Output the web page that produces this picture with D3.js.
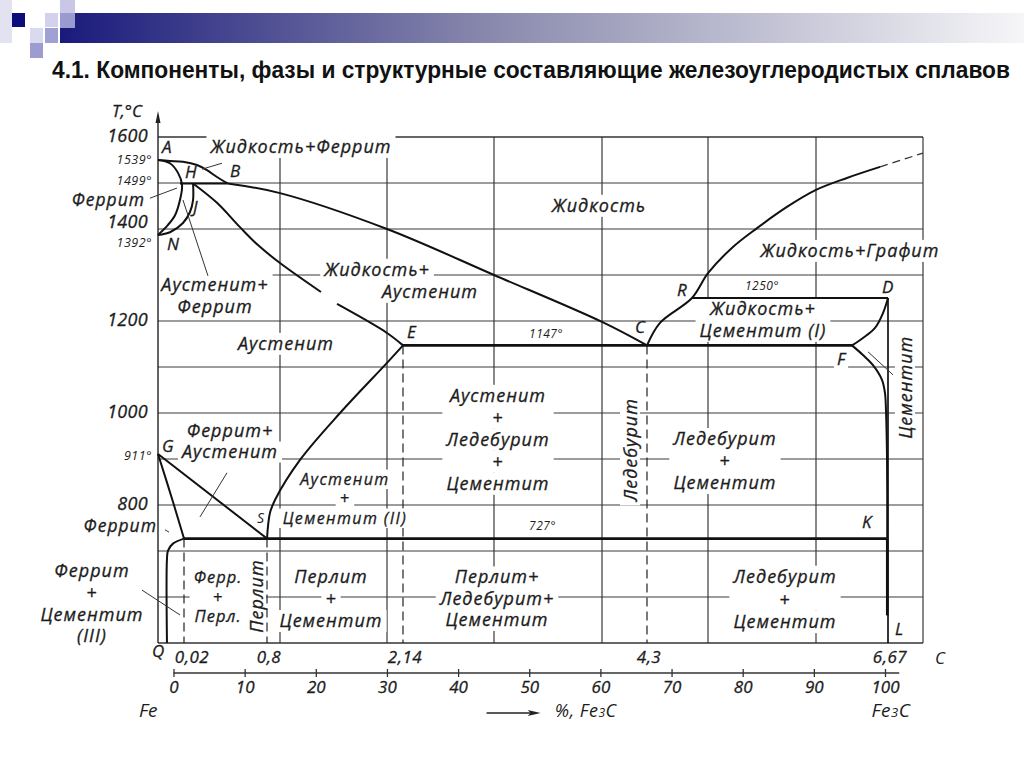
<!DOCTYPE html>
<html><head><meta charset="utf-8">
<script src="https://cdn.jsdelivr.net/npm/d3@7"></script>
<style>
body{margin:0;background:#fff;}
svg{display:block;}
.lbl{font-family:"Open Sans","Noto Sans",sans-serif;font-style:italic;fill:#1c1c1c;stroke:#1c1c1c;stroke-width:0.3px;}
</style></head><body>
<svg id="c" width="1024" height="767"></svg>
<script>
// ---------- DATA ----------
const title = "4.1. Компоненты, фазы и структурные составляющие железоуглеродистых сплавов";
const tempTicks = [800, 1000, 1200, 1400, 1600];
const gridTemps = [600, 700, 800, 900, 1000, 1100, 1200, 1300, 1400, 1500];
const gridCarbon = [1, 2, 3, 4, 5, 6, 7];
const fe3cTicks = [0, 10, 20, 30, 40, 50, 60, 70, 80, 90, 100];
const compValues = [0.02, 0.8, 2.14, 4.3, 6.67];
const compLabels = ["0,02", "0,8", "2,14", "4,3", "6,67"];
const dashedFrom = [[0.02, 727], [0.8, 727], [2.14, 1147], [4.3, 1147]];

// phase boundaries, [C %, T °C]
const liquidusAB = [[0,1550],[0.0092,1548],[0.0192,1546],[0.142,1539],[0.236,1528],[0.330,1513],[0.43,1499]];
const liquidusBC = [[0.43,1499],[1,1478],[2,1400],[3,1300],[4,1198],[4.3,1147]];
const deltaAN = [[0,1550],[0.0092,1543],[0.0154,1522],[0.0185,1496],[0.0169,1463],[0.0131,1430],[0.0077,1409],[0,1387]];
const peritecticHJB = [[0.0169,1499],[0.43,1499]];
const deltaJN = [[0.105,1499],[0.105,1463],[0.076,1437],[0.0192,1413],[0.0092,1393],[0,1387]];
const solidusJE1 = [[0.105,1499],[0.330,1457],[0.546,1404],[0.715,1365],[1,1326],[1.383,1263]];
const solidusJE2 = [[1.533,1237],[2,1174],[2.14,1147]];
const acmES = [[2.14,1147],[2,1109],[1.561,1000],[1.187,898],[0.923,811],[0.846,783],[0.8,727]];
const a3GS = [[0,911],[0.8,727]];
const lineGP = [[0,911],[0.0115,807],[0.02,727]];
const linePQ = [[0.02,727],[0.0115,716],[0.0077,701],[0.0069,683],[0.0069,500]];
const eutectoidPSK = [[0.02,727],[6.66,727]];
const eutecticECF = [[2.14,1147],[6.335,1147]];
const liquidusCD = [[4.3,1147],[4.449,1196],[4.816,1250],[5,1304],[5.231,1361],[5.454,1402],[5.731,1448],[6,1485],[6.288,1511],[6.596,1535]];
const liquidusDashed = [[6.596,1535],[7,1565]];
const lineRD = [[4.816,1250],[6.67,1250]];
const curveDF = [[6.67,1250],[6.623,1217],[6.549,1185],[6.437,1163],[6.335,1147]];
const curveFK = [[6.335,1147],[6.437,1126],[6.530,1104],[6.614,1072],[6.642,1043],[6.651,1007],[6.661,898],[6.663,727]];
const lineKL = [[6.663,727],[6.663,560]];
const lineDL = [[6.67,1250],[6.67,500]];
const leaders = [
  [[0.189,1530],[0.377,1543]],
  [[-0.0062,1467],[0.0146,1489]],
  [[0.0192,1463],[0.2455,1298]],
  [[0.424,870],[0.170,774]],
  [[0.0054,746],[0.0085,741]],
  [[-0.0123,615],[0.0169,561]],
  [[6.484,1133],[6.717,1083]]
];

// region names
const regionText = [
  ["Жидкость+Феррит"], ["Жидкость"], ["Жидкость+Графит"], ["Жидкость+"], ["Аустенит"],
  ["Аустенит+", "Феррит"], ["Аустенит"], ["Аустенит", "+", "Ледебурит", "+", "Цементит"],
  ["Ледебурит"], ["Ледебурит", "+", "Цементит"], ["Жидкость+", "Цементит (I)"], ["Цементит"],
  ["Феррит+", "Аустенит"], ["Аустенит", "+", "Цементит (II)"], ["Перлит", "+", "Цементит"],
  ["Ферр.", "+", "Перл."], ["Перлит"], ["Перлит+", "Ледебурит+", "Цементит"], ["Ледебурит", "+", "Цементит"],
  ["Феррит", "+", "Цементит", "(III)"], ["Феррит"], ["Феррит"]
];
const regionAt = [
  [1.196,1565],[3.972,1437],[6.316,1339],[1.907,1298],[2.395,1250],
  [0.311,1265],[1.056,1137],[3.037,1024],
  [4.187,920],[5.157,930],[5.509,1213],[6.83,1056],
  [0.452,948],[1.607,844],[1.477,630],
  [0.340,630],[0.697,602],[3.028,630],[5.713,630],
  [-0.0508,643],[-0.01,1449],[-0.0008,742]
];
const pointNames = ["A","H","B","J","N","E","C","R","D","F","G","S","K","L","Q"];
const pointAt = [[0.0031,1565],[0.0294,1511],[0.452,1513],[0.1046,1435],[0.0069,1354],[2.178,1163],[4.22,1174],
  [4.644,1254],[6.614,1261],[6.195,1104],[0.0031,915],[0.706,761],[6.428,750],[6.736,517],[-0.0046,470]];
const isoText = ["1147°", "727°", "1250°"];
const isoAt = [[3.482,1163],[3.45,746],[5.5,1267]];
const sideTemps = ["1539°", "1499°", "1392°", "911°"];
const sideAt = [1541, 1496, 1360, 898];

// ---------- LAYOUT / SCALES ----------
const svg = d3.select("#c");
const x = d3.scaleLinear()
  .domain([0, 0.02, 0.8, 1, 2, 2.14, 3, 4, 4.3, 5, 6, 6.67, 7])
  .range([158, 184, 267, 280, 387, 403, 494, 602, 647, 708, 816, 888, 923]);
const y = d3.scaleLinear().domain([500, 1600]).range([643, 137]);
const fe3c = d3.scaleLinear().domain([0, 100]).range([173.5, 885]);

// ---------- HEADER ----------
const defs = svg.append("defs");
const gr = defs.append("linearGradient").attr("id", "hg");
gr.append("stop").attr("offset", "0").attr("stop-color", "#1a1a7c");
gr.append("stop").attr("offset", "0.45").attr("stop-color", "#8a8aae");
gr.append("stop").attr("offset", "1").attr("stop-color", "#f6f6f8");
svg.append("rect").attr("x", 60).attr("y", 13).attr("width", 964).attr("height", 30).attr("fill", "url(#hg)");
[[0,0,12,43,"#e2e2f0"],[12,13,13,14,"#0c0c7a"],[45,13,13,14,"#d2d2ec"],[60,0,15,13,"#c8c8e6"],
 [60,13,15,15,"#9a9ad0"],[30,28,13,15,"#dadaee"],[45,28,13,15,"#a0a0d4"],[30,43,13,15,"#9c9cd0"]]
 .forEach(s => svg.append("rect").attr("x", s[0]).attr("y", s[1]).attr("width", s[2]).attr("height", s[3]).attr("fill", s[4]));
svg.append("text").attr("x", 52).attr("y", 78).attr("font-family", "'Liberation Sans Narrow','Arial Narrow','Liberation Sans',sans-serif")
  .attr("font-weight", "bold").attr("font-size", 23).attr("fill", "#111")
  .attr("textLength", 958).attr("lengthAdjust", "spacingAndGlyphs").text(title);

// ---------- LAYERS ----------
const gGrid = svg.append("g");
const gBg = svg.append("g");
const gLines = svg.append("g");
const gText = svg.append("g");

// grid
gridTemps.forEach(t => gGrid.append("line").attr("x1", x(0)).attr("x2", x(7)).attr("y1", y(t)).attr("y2", y(t))
  .attr("stroke", "#3a3a3a").attr("stroke-width", 1.2));
gridCarbon.forEach(c => gGrid.append("line").attr("x1", x(c)).attr("x2", x(c)).attr("y1", y(500)).attr("y2", y(1600))
  .attr("stroke", "#3a3a3a").attr("stroke-width", 1.2));
gGrid.append("line").attr("x1", x(0)).attr("x2", x(7)).attr("y1", y(1600)).attr("y2", y(1600)).attr("stroke", "#333").attr("stroke-width", 1.3);
gGrid.append("line").attr("x1", x(0)).attr("x2", x(7)).attr("y1", y(500)).attr("y2", y(500)).attr("stroke", "#333").attr("stroke-width", 1.3);
// dashed verticals
dashedFrom.forEach(d => gGrid.append("line").attr("x1", x(d[0])).attr("x2", x(d[0])).attr("y1", y(d[1])).attr("y2", y(500))
  .attr("stroke", "#222").attr("stroke-width", 1.2).attr("stroke-dasharray", "9,5"));

// left axis with arrow
gLines.append("line").attr("x1", x(0)).attr("x2", x(0)).attr("y1", y(500)).attr("y2", y(1600) - 22).attr("stroke", "#222").attr("stroke-width", 1.4);
gLines.append("path").attr("d", `M${x(0)},${y(1600)-26} l-2.5,12 l5,0 z`).attr("fill", "#222");

// phase lines
const line = d3.line().x(d => x(d[0])).y(d => y(d[1])).curve(d3.curveCatmullRom.alpha(0.5));
const straight = d3.line().x(d => x(d[0])).y(d => y(d[1]));
const curves = [liquidusAB, liquidusBC, deltaAN, deltaJN, solidusJE1, solidusJE2, acmES, lineGP, linePQ, liquidusCD, curveDF, curveFK];
curves.forEach(c => gLines.append("path").attr("d", line(c)).attr("fill", "none").attr("stroke", "#111").attr("stroke-width", 2));
[peritecticHJB, a3GS, lineRD].forEach(c => gLines.append("path").attr("d", straight(c)).attr("fill", "none").attr("stroke", "#111").attr("stroke-width", 2));
[eutectoidPSK, eutecticECF, lineKL].forEach(c => gLines.append("path").attr("d", straight(c)).attr("fill", "none").attr("stroke", "#111").attr("stroke-width", 2.6));
gLines.append("path").attr("d", straight(lineDL)).attr("fill", "none").attr("stroke", "#111").attr("stroke-width", 1.7);
gLines.append("path").attr("d", straight(liquidusDashed)).attr("fill", "none").attr("stroke", "#333").attr("stroke-width", 1.3).attr("stroke-dasharray", "8,5");
leaders.forEach(c => gLines.append("path").attr("d", straight(c)).attr("fill", "none").attr("stroke", "#333").attr("stroke-width", 1));

// ---------- LABELS ----------
const LS = 1.0;
function label(lines, px, py, o) {
  o = o || {};
  const fs = o.fs || 18, lh = o.lh || 22, anchor = o.anchor || "middle";
  const t = gText.append("text").attr("class", "lbl").attr("font-size", fs).attr("text-anchor", anchor)
    .attr("letter-spacing", o.ls === undefined ? LS : o.ls);
  const tr = o.rotate ? `translate(${px},${py}) rotate(-90)` : `translate(${px},${py})`;
  t.attr("transform", tr);
  if (o.rotate) t.attr("dominant-baseline", "central");
  if (o.thin) t.style("stroke-width", "0px");
  const spans = lines.map((s, i) => t.append("tspan").attr("x", 0).attr("y", i * lh).text(s));
  if (o.bg) {
    const ws = spans.map(sp => sp.node().getComputedTextLength());
    const wmax = d3.max(ws);
    lines.forEach((s, i) => {
      const w = (o.block ? wmax : ws[i]) + 2 * (o.padX || 4);
      const x0 = anchor === "middle" ? -w / 2 : (anchor === "end" ? -w + (o.padX || 4) : -(o.padX || 4));
      const yTop = o.rotate ? -lh / 2 : i * lh - lh * 0.78;
      gBg.append("rect").attr("transform", tr).attr("x", x0).attr("y", yTop).attr("width", w).attr("height", lh).attr("fill", "#fff");
    });
  }
  return t;
}

const regionOpts = [
  {bg:true},{bg:true},{bg:true,block:true},{bg:true},{bg:true},
  {bg:true},{bg:true},{bg:true,block:true,lh:22},
  {rotate:true,bg:true,lh:20},{bg:true,block:true,lh:22},{bg:true,lh:22},{rotate:true,bg:true,lh:20},
  {bg:true,lh:21},{bg:true,lh:19.5,fs:16,ls:1.4},{bg:true,lh:22},
  {bg:true,block:true,lh:19.5,fs:16.5},{rotate:true,bg:true,lh:20},{bg:true,block:true,lh:21.5},{bg:true,block:true,lh:22.5},
  {lh:21.7},{anchor:"end",fs:17.5},{anchor:"end",fs:17.5}
];
regionText.forEach((r, i) => label(r, x(regionAt[i][0]), y(regionAt[i][1]), regionOpts[i]));

pointNames.forEach((p, i) => label([p], x(pointAt[i][0]), y(pointAt[i][1]),
  {anchor: "start", fs: p === "S" ? 14 : 17, ls: 0, bg: p === "F", padX: 3, thin: p === "S"}));
isoText.forEach((s, i) => label([s], x(isoAt[i][0]), y(isoAt[i][1]), {fs: 12, ls: 0.5, thin: true}));
sideTemps.forEach((s, i) => label([s], x(0) - 6, y(sideAt[i]), {fs: 12.5, ls: 0.5, anchor: "end", thin: true}));
tempTicks.forEach(t => label([String(t)], x(0) - 10, y(t) + (t === 1400 ? -1 : 5), {fs: 18, ls: 0.3, anchor: "end"}));
label(["T,°C"], x(0) - 46, y(1600) - 20, {fs: 17, ls: 0, anchor: "start"});

compValues.forEach((c, i) => label([compLabels[i]], x(c) + (i === 0 ? 8 : 2), y(500) + 20, {fs: 17, ls: 0.5}));
label(["C"], x(7) + 12, y(500) + 21, {fs: 17, ls: 0, anchor: "start", thin: true});

// Fe3C axis
const axY = y(500) + 30;
const ax = svg.append("g").attr("transform", `translate(0,${axY})`)
  .call(d3.axisBottom(fe3c).tickValues(fe3cTicks).tickSize(4).tickSizeOuter(0).tickPadding(4));
ax.select(".domain").remove();
ax.selectAll(".tick line").attr("y1", -4).attr("y2", 4).attr("stroke", "#333").attr("stroke-width", 1.3);
ax.selectAll(".tick text").attr("class", "lbl").attr("font-size", 17).attr("fill", "#1c1c1c");
svg.append("line").attr("x1", fe3c(0)).attr("x2", fe3c(102)).attr("y1", axY).attr("y2", axY).attr("stroke", "#333").attr("stroke-width", 1.4);
label(["Fe"], fe3c(0) - 16, axY + 44, {fs: 19, ls: 0, anchor: "end", thin: true});
svg.append("line").attr("x1", fe3c(44)).attr("x2", fe3c(51)).attr("y1", axY + 40).attr("y2", axY + 40).attr("stroke", "#222").attr("stroke-width", 1.3);
svg.append("path").attr("d", `M${fe3c(51.6)},${axY+40} l-13,-3 l3,3 l-3,3 z`).attr("fill", "#222");
const pt = label(["%, Fe"], fe3c(53.6), axY + 44, {fs: 18, ls: 0.5, anchor: "start", thin: true});
pt.select("tspan").append("tspan").attr("font-size", 12).text("3");
pt.select("tspan").append("tspan").text("C");
const ft = label(["Fe"], fe3c(98.1), axY + 44, {fs: 19, ls: 0.5, anchor: "start", thin: true});
ft.select("tspan").append("tspan").attr("font-size", 13).text("3");
ft.select("tspan").append("tspan").text("C");
</script>
</body></html>
